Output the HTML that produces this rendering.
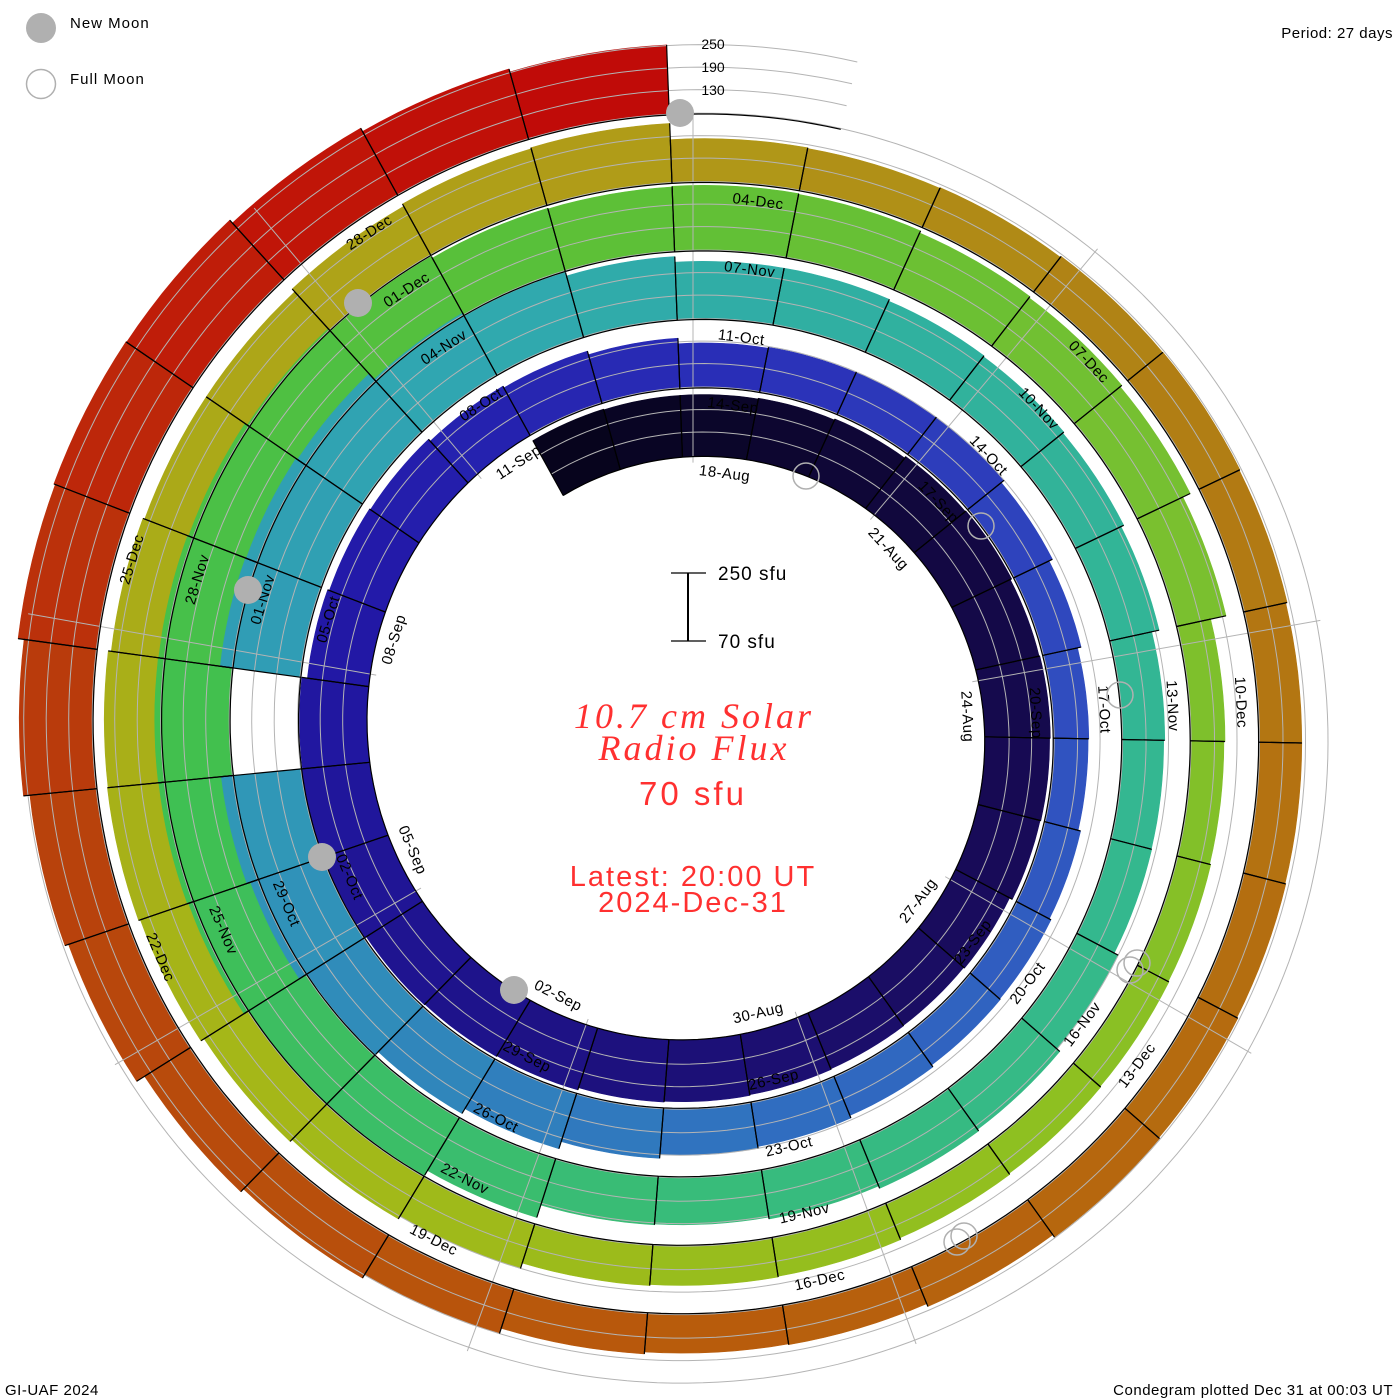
<!DOCTYPE html>
<html><head><meta charset="utf-8">
<style>
html,body{margin:0;padding:0;background:#fff;}
svg{display:block;}
</style></head>
<body>
<svg id="s" width="1400" height="1400" viewBox="0 0 1400 1400" xmlns="http://www.w3.org/2000/svg" font-family="Liberation Sans, sans-serif">
<rect width="1400" height="1400" fill="#fff"/>
<g id="bars"></g>
<g id="lev" fill="none" stroke="#b4b4b4" stroke-width="1"></g>
<g id="rad" stroke="#b4b4b4" stroke-width="1"></g>
<g id="blk" fill="none" stroke="#000" stroke-width="1.2"></g>
<g id="lbl" font-size="15" fill="#000"></g>
<g id="moons"></g>
<!-- legend -->
<circle cx="41" cy="28" r="15" fill="#b0b0b0"/>
<text x="70" y="28" font-size="15" letter-spacing="1">New Moon</text>
<circle cx="41" cy="84" r="14.5" fill="none" stroke="#b0b0b0" stroke-width="1.5"/>
<text x="70" y="84" font-size="15" letter-spacing="1">Full Moon</text>
<text x="1393" y="38" font-size="15" text-anchor="end" letter-spacing="0.5">Period: 27 days</text>
<text x="5" y="1395" font-size="15" letter-spacing="0.5">GI-UAF 2024</text>
<text x="1393" y="1395" font-size="15" text-anchor="end" letter-spacing="0.5">Condegram plotted Dec 31 at 00:03 UT</text>
<text x="713" y="49" font-size="14" text-anchor="middle">250</text>
<text x="713" y="72" font-size="14" text-anchor="middle">190</text>
<text x="713" y="95" font-size="14" text-anchor="middle">130</text>
<!-- scale bar -->
<g stroke="#000" stroke-width="2">
<line x1="688" y1="573" x2="688" y2="641"/>
<line x1="671" y1="573" x2="706" y2="573" stroke-width="1.3"/>
<line x1="671" y1="641" x2="706" y2="641" stroke-width="1.3"/>
</g>
<text x="718" y="580" font-size="19" letter-spacing="1">250 sfu</text>
<text x="718" y="648" font-size="19" letter-spacing="1">70 sfu</text>
<g fill="#ff3030" text-anchor="middle">
<text x="694" y="728" style="font-family:'Liberation Serif',serif;font-style:italic;font-size:36px;letter-spacing:3px">10.7 cm Solar</text>
<text x="694" y="760" style="font-family:'Liberation Serif',serif;font-style:italic;font-size:36px;letter-spacing:3px">Radio Flux</text>
<text x="693" y="805" font-size="33" letter-spacing="3">70 sfu</text>
<text x="693" y="886" font-size="29" letter-spacing="2">Latest: 20:00 UT</text>
<text x="693" y="912" font-size="29" letter-spacing="2">2024-Dec-31</text>
</g>
</svg>
<script>
(function(){
var NS="http://www.w3.org/2000/svg";
var CX=693,CY=731,R0=274,DR=68.5,S=0.375,FB=65,OFF=-2.2;
function R(t){return R0+DR*t/27;}
function ang(t){return (t*360/27+OFF)*Math.PI/180;}
function pt(t,r){var a=ang(t);return [CX+r*Math.sin(a),CY-r*Math.cos(a)];}
var F=[232,230,
230,232,235,240,242,238,240,238,236,228,225,226,228,230,232,238,240,242,246,248,245,230,225,222,215,210,200,
185,188,190,190,180,170,160,158,165,170,172,178,185,190,200,220,235,245,270,280,null,282,280,275,255,245,235,
220,220,215,212,208,200,180,177,178,190,200,205,198,193,195,230,245,250,262,265,266,265,262,255,245,240,238,
240,238,232,228,222,200,158,155,158,160,162,165,170,172,175,190,198,205,215,220,218,210,205,205,215,222,225,
182,180,182,185,186,184,180,180,182,185,188,180,172,170,175,190,200,210,235,245,262,278,282,280,270,260,252];
var stops=[[-2,"#06041a"],[4,"#120840"],[10,"#1a0c60"],[16,"#1e1288"],[22,"#2218a8"],[28,"#2a30b8"],[34,"#3050c0"],[40,"#3070c0"],[46,"#3095b8"],[52,"#30a8b0"],[56,"#30b0a0"],[62,"#34b890"],[68,"#38bc78"],[74,"#40c050"],[80,"#5ac038"],[86,"#78c030"],[92,"#90c020"],[98,"#a4b818"],[104,"#aca818"],[108,"#b09a18"],[112,"#b08014"],[116,"#b47010"],[122,"#b85a0c"],[128,"#b8400c"],[132,"#c01808"],[135,"#c00808"]];
function hx(c){return [parseInt(c.substr(1,2),16),parseInt(c.substr(3,2),16),parseInt(c.substr(5,2),16)];}
function col(t){
 if(t<=stops[0][0])return stops[0][1];
 for(var i=0;i<stops.length-1;i++){var a=stops[i],b=stops[i+1];
  if(t>=a[0]&&t<=b[0]){var f=(t-a[0])/(b[0]-a[0]);var A=hx(a[1]),B=hx(b[1]);
   return "rgb("+Math.round(A[0]+(B[0]-A[0])*f)+","+Math.round(A[1]+(B[1]-A[1])*f)+","+Math.round(A[2]+(B[2]-A[2])*f)+")";}}
 return stops[stops.length-1][1];}
function el(n,at,par){var e=document.createElementNS(NS,n);for(var k in at)e.setAttribute(k,at[k]);par.appendChild(e);return e;}
var gb=document.getElementById("bars"),gl=document.getElementById("lev"),gr=document.getElementById("rad"),gk=document.getElementById("blk"),gt=document.getElementById("lbl"),gm=document.getElementById("moons");
for(var i=F.length-1;i>=0;i--){
 var v=F[i];if(v==null)continue;var t0=i-2,h=(v-FB)*S;var p=[];
 for(var k=0;k<=8;k++){var t=t0+k/8;var q=pt(t,R(t));p.push(q[0].toFixed(1)+","+q[1].toFixed(1));}
 for(var k=8;k>=0;k--){var t=t0+k/8;var q=pt(t,R(t)+h);p.push(q[0].toFixed(1)+","+q[1].toFixed(1));}
 el("polygon",{points:p.join(" "),fill:col(t0+0.5),stroke:col(t0+0.5),"stroke-width":"0.6"},gb);
}
var TEND=136.2;
[130,190,250].forEach(function(L){var d="";for(var t=-2;t<=TEND;t+=0.1){var q=pt(t,R(t)+(L-FB)*S);d+=(d?"L":"M")+q[0].toFixed(1)+" "+q[1].toFixed(1);}el("path",{d:d},gl);});
for(var a=0;a<360;a+=40){var r=a*Math.PI/180;var tr=(a+2.2)/360*27;var rin=R(tr)-6;var tout=tr+108;if(tout>TEND)tout-=27;var rout=R(tout)+(250-FB)*S+4;
 el("line",{x1:CX+rin*Math.sin(r),y1:CY-rin*Math.cos(r),x2:CX+rout*Math.sin(r),y2:CY-rout*Math.cos(r)},gr);}
var d="";for(var t=-2;t<=TEND;t+=0.1){var q=pt(t,R(t));d+=(d?"L":"M")+q[0].toFixed(1)+" "+q[1].toFixed(1);}el("path",{d:d},gk);
for(var i=0;i<F.length;i++){var v=F[i];if(v==null)continue;var t0=i-2,h=(v-FB)*S;
 [t0,t0+1].forEach(function(t){var a=pt(t,R(t)),b=pt(t,R(t)+h);el("line",{x1:a[0].toFixed(1),y1:a[1].toFixed(1),x2:b[0].toFixed(1),y2:b[1].toFixed(1)},gk);});}
var mon=["Aug","Sep","Oct","Nov","Dec"],ml=[31,30,31,30,31];
for(var t=0;t<=132;t+=3){var day=18+t,m=0;while(day>ml[m]){day-=ml[m];m++;}
 var s=(day<10?"0":"")+day+"-"+mon[m];
 var aDeg=t*360/27+7;var aa=((aDeg%360)+360)%360;var rr=R(t+0.5)-16;var rad=aa*Math.PI/180;
 var x=CX+rr*Math.sin(rad),y=CY-rr*Math.cos(rad);var rot=aa;if(aa>90&&aa<=270)rot=aa-180;else if(aa>270)rot=aa-360;
 var e=el("text",{x:0,y:0,"text-anchor":"middle","dominant-baseline":"central",transform:"translate("+x.toFixed(1)+","+y.toFixed(1)+") rotate("+rot.toFixed(1)+")","letter-spacing":"0.5"},gt);e.textContent=s;}
[[680,113],[358,303],[248,590],[322,857],[514,990]].forEach(function(c){el("circle",{cx:c[0],cy:c[1],r:14,fill:"#b0b0b0"},gm);});
[[806,476],[981,526],[1120,695],[1130,970],[1137,963],[957,1242],[964,1236]].forEach(function(c){el("circle",{cx:c[0],cy:c[1],r:13,fill:"none",stroke:"#b0b0b0","stroke-width":"1.5"},gm);});
})();
</script>
</body></html>
